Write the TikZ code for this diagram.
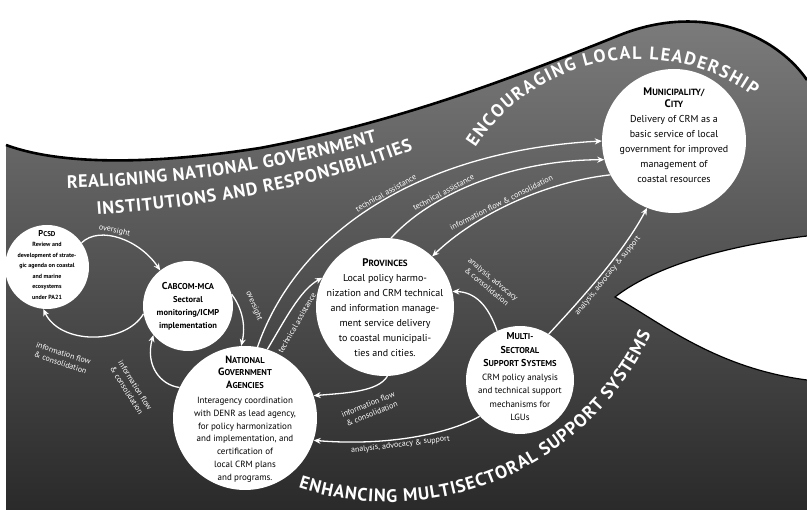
\documentclass[tikz,border=0pt]{standalone}
\usepackage{fontspec}
\setmainfont{PT Sans}
\newfontfamily\bannerfam{PT Sans}
\usetikzlibrary{decorations.text, arrows.meta}

\definecolor{seaTop}{HTML}{7C7C7C}
\definecolor{seaMid}{HTML}{5A5A5A}
\definecolor{seaBot}{HTML}{2A2A2A}

% fake small caps: first letter size, rest size, first letter, rest
\newcommand{\hsc}[4]{{\fontsize{#1}{#1}\selectfont\bfseries #3}{\fontsize{#2}{#1}\selectfont\bfseries #4}}
\newcommand{\bannerfont}{\bannerfam\bfseries\fontsize{18}{20}\selectfont}

\begin{document}
\begin{tikzpicture}[x=1pt, y=-1pt,
  hub/.style={circle, fill=white, draw=none, inner sep=0pt},
  blurb/.style={align=center, text=black, inner sep=0pt},
  link/.style={white, line width=1.3pt, -{Stealth[length=7pt,width=6pt]}},
  knil/.style={white, line width=1.3pt, {Stealth[length=7pt,width=6pt]}-},
  tag/.style={text=white, font=\fontsize{8}{10}\selectfont, inner sep=1.5pt, align=center},
  banner/.style={decorate, decoration={text along path, text align={fit to path}, text color=white}},
]
\useasboundingbox (0,0) rectangle (807,510);
\fill[white] (0,0) rectangle (807,510);

% the wave body
\shade[top color=seaTop, middle color=seaMid, bottom color=seaBot]
  (6,145) .. controls (60,165) and (150,165) .. (260,148)
  .. controls (400,122) and (520,75) .. (620,35)
  .. controls (665,17) and (720,14) .. (770,45)
  .. controls (790,58) and (800,70) .. (807,80)
  -- (807,510) -- (6,510) -- cycle;
\draw[line width=2.6pt]
  (6,145) .. controls (60,165) and (150,165) .. (260,148)
  .. controls (400,122) and (520,75) .. (620,35)
  .. controls (665,17) and (720,14) .. (770,45)
  .. controls (790,58) and (800,70) .. (807,80);

% hollow of the curl
\fill[white] (807,236) .. controls (740,244) and (660,262) .. (615,297)
  .. controls (660,322) and (715,368) .. (807,380) -- cycle;
\draw[line width=1.2pt] (807,236) .. controls (740,244) and (660,262) .. (615,297)
  .. controls (660,322) and (715,368) .. (807,380);

% curved banners
\path[banner, decoration={text={|\bannerfont|REALIGNING NATIONAL GOVERNMENT}}]
  (67,188) .. controls (170,186) and (280,170) .. (377,142);
\path[banner, decoration={text={|\bannerfont|INSTITUTIONS AND RESPONSIBILITIES}}]
  (97,215) .. controls (210,207) and (320,186) .. (413,150);
\path[banner, decoration={text={|\bannerfont|ENCOURAGING LOCAL LEADERSHIP}}]
  (639,254) ++(213:195) arc[start angle=213, end angle=306, radius=195];
\path[banner, decoration={text={|\bannerfont|ENHANCING MULTISECTORAL SUPPORT SYSTEMS}}]
  (388,212) ++(108:290) arc[start angle=108, end angle=25, radius=290];

% institutions
\node[hub, minimum size=84pt]  (pcsd) at (47,267) {};
\node[hub, minimum size=90pt]  (cab)  at (188,306) {};
\node[hub, minimum size=144pt] (nga)  at (245,418) {};
\node[hub, minimum size=138pt] (prov) at (385,307) {};
\node[hub, minimum size=108pt] (ms)   at (520,380) {};
\node[hub, minimum size=144pt] (muni) at (674,141) {};

\node[blurb, font=\fontsize{6}{10.5}\selectfont\bfseries] (pcsdT) at (47,265)
  {\hsc{8.5}{7}{P}{CSD}\\Review and\\development of strate-\\gic agenda on coastal\\and marine\\ecosystems\\under PA21};
\node[blurb, font=\fontsize{8.5}{13}\selectfont\bfseries] (cabT) at (188,306)
  {\hsc{10}{8.5}{C}{ABCOM-MCA}\\Sectoral\\monitoring/ICMP\\implementation};
\node[blurb, font=\fontsize{9}{12.8}\selectfont] (ngaT) at (245,419)
  {\hsc{10.5}{8.5}{N}{ATIONAL}\\\hsc{10.5}{8.5}{G}{OVERNMENT}\\\hsc{10.5}{8.5}{A}{GENCIES}\\[2pt]Interagency coordination\\with DENR as lead agency,\\for policy harmonization\\and implementation, and\\certification of\\local CRM plans\\and programs.};
\node[blurb, font=\fontsize{10}{15}\selectfont] (provT) at (385,308)
  {\hsc{11}{9}{P}{ROVINCES}\\Local policy harmo-\\nization and CRM technical\\and information manage-\\ment service delivery\\to coastal municipali-\\ties and cities.};
\node[blurb, font=\fontsize{9}{13.5}\selectfont] (msT) at (520,377)
  {\hsc{10}{8.5}{M}{ULTI-}\\\hsc{10}{8.5}{S}{ECTORAL}\\\hsc{10}{8.5}{S}{UPPORT} \hsc{10}{8.5}{S}{YSTEMS}\\CRM policy analysis\\and technical support\\mechanisms for\\LGUs};
\node[blurb, font=\fontsize{10}{15}\selectfont] (muniT) at (674,135)
  {\hsc{11}{9}{M}{UNICIPALITY/}\\[-3pt]\hsc{11}{9}{C}{ITY}\\Delivery of CRM as a\\basic service of local\\government for improved\\management of\\coastal resources};

% flows between institutions
\draw[link] (pcsd.35) .. controls (100,225) and (140,240) .. (cab.128)
  node[tag, pos=0.42, sloped, above] {oversight};
\draw[link] (cab.190) .. controls (125,345) and (60,345) .. (pcsd.265);
\node[tag, rotate=-18] (tagB) at (62,358) {information flow\\\& consolidation};

\draw[link] (nga.155) .. controls (160,385) and (145,365) .. (cab.220);
\node[tag, rotate=-58] (tagC) at (131,388) {information flow\\\& consolidation};

\draw[link] (cab.15) .. controls (242,308) and (246,325) .. (nga.93);
\node[tag, rotate=-68] (tagD) at (254,306) {oversight};

\draw[link] (nga.80) .. controls (300,225) and (430,150) .. (muni.180)
  node[tag, pos=0.52, sloped, above] {technical assistance};
\draw[link] (nga.72) .. controls (285,320) and (300,290) .. (prov.155);
\node[tag, rotate=60] (tagF) at (297,323) {technical assistance};

\draw[link] (prov.85) .. controls (430,195) and (510,160) .. (muni.195)
  node[tag, pos=0.35, sloped, above] {technical assistance};
\draw[knil] (prov.47) .. controls (475,215) and (545,182) .. (muni.208)
  node[tag, pos=0.45, sloped, above] {information flow \& consolidation};

\draw[knil] (nga.18) .. controls (345,393) and (378,392) .. (prov.272);
\node[tag, rotate=22] (tagI) at (370,409) {information flow\\\& consolidation};

\draw[knil] (nga.342) .. controls (380,446) and (445,436) .. (ms.222)
  node[tag, pos=0.45, sloped, below] {analysis, advocacy \& support};
\draw[link] (ms.115) .. controls (488,305) and (475,292) .. (prov.13);
\node[tag, rotate=-40] (tagK) at (490,283) {analysis, advocacy\\\& consolidation};
\draw[link] (ms.58) .. controls (585,295) and (625,250) .. (muni.248)
  node[tag, pos=0.5, sloped, below] {analysis, advocacy \& support};
\end{tikzpicture}
\end{document}
